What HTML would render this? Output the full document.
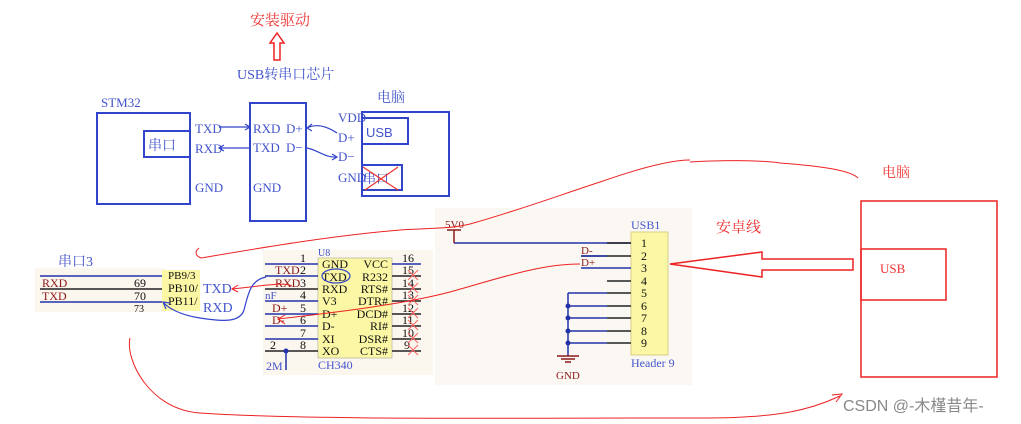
<!DOCTYPE html>
<html><head><meta charset="utf-8"><style>
html,body{margin:0;padding:0;background:#fff;}
svg{display:block;font-family:"Liberation Serif","Noto Serif CJK SC",serif;}
.b{fill:#4455cc;}
.r{fill:#ee3333;}
.dr{fill:#8b1a1a;}
.k{fill:#111;}
</style></head><body>
<svg width="1021" height="424" viewBox="0 0 1021 424" xmlns="http://www.w3.org/2000/svg">
<rect x="35" y="268" width="130" height="44" fill="#fbf6ee"/>
<rect x="263" y="250" width="170" height="125" fill="#fbf6ee"/>
<rect x="435" y="208" width="257" height="177" fill="#fbf8f3"/>

<text x="250" y="25" font-size="15" class="r">安装驱动</text>
<path d="M277,33 L284,43 L280,43 L280,60 L274,60 L274,43 L270,43 Z" fill="none" stroke="#e22" stroke-width="1.5"/>
<text x="237" y="79" font-size="14" class="b">USB转串口芯片</text>

<text x="101" y="107" font-size="13" class="b">STM32</text>
<rect x="97" y="113" width="93" height="91" fill="none" stroke="#3344cc" stroke-width="2"/>
<rect x="144" y="131" width="46" height="26" fill="none" stroke="#3344cc" stroke-width="2"/>
<text x="148" y="150" font-size="14" class="b">串口</text>
<text x="195" y="133" font-size="13" class="b">TXD</text>
<text x="195" y="153" font-size="13" class="b">RXD</text>
<text x="195" y="192" font-size="13" class="b">GND</text>

<rect x="250" y="103" width="56" height="118" fill="none" stroke="#3344cc" stroke-width="2"/>
<text x="253" y="133" font-size="13" class="b">RXD</text>
<text x="253" y="152" font-size="13" class="b">TXD</text>
<text x="253" y="192" font-size="13" class="b">GND</text>
<text x="286" y="133" font-size="13" class="b">D+</text>
<text x="286" y="152" font-size="13" class="b">D−</text>
<g stroke="#3344cc" stroke-width="1.2" fill="none">
<path d="M219,127 L250,127 M245,124 L250,127 L245,130"/>
<path d="M250,148 L219,148 M224,145 L219,148 L224,151"/>
<path d="M337,133 C325,125 315,124 307,128 M312,124 L307,128 L312,131"/>
<path d="M307,148 C318,150 325,158 337,157 M332,154 L337,157 L332,160"/>
</g>

<text x="377" y="102" font-size="14" class="b">电脑</text>
<rect x="362" y="112" width="87" height="84" fill="none" stroke="#3344cc" stroke-width="2"/>
<rect x="362" y="118" width="46" height="26" fill="none" stroke="#3344cc" stroke-width="2"/>
<text x="366" y="137" font-size="13" class="b" font-family="Liberation Sans">USB</text>
<rect x="362" y="165" width="40" height="25" fill="none" stroke="#3344cc" stroke-width="2"/>
<text x="338" y="122" font-size="13" class="b">VDD</text>
<text x="338" y="142" font-size="13" class="b">D+</text>
<text x="338" y="161" font-size="13" class="b">D−</text>
<text x="338" y="182" font-size="13" class="b">GND</text>
<text x="363" y="183" font-size="13" class="b">串口</text>
<path d="M363,167 L398,190 M398,167 L365,190" stroke="#e33" stroke-width="1.2"/>

<text x="58" y="266" font-size="14" class="b">串口3</text>
<line x1="40" y1="276" x2="162" y2="276" stroke="#2233aa" stroke-width="1.5"/>
<text x="42" y="287" font-size="12" class="dr">RXD</text>
<text x="134" y="287" font-size="12" class="k">69</text>
<line x1="40" y1="289" x2="162" y2="289" stroke="#222" stroke-width="1.5"/>
<text x="42" y="300" font-size="12" class="dr">TXD</text>
<text x="134" y="300" font-size="12" class="k">70</text>
<line x1="40" y1="302" x2="162" y2="302" stroke="#2233aa" stroke-width="1.5"/>
<text x="134" y="312" font-size="10" class="k">73</text>
<rect x="162" y="270" width="38" height="41" fill="#fbf7a4"/>
<text x="168" y="279" font-size="11" class="k">PB9/3</text>
<text x="168" y="292" font-size="12" class="k">PB10/</text>
<text x="168" y="305" font-size="12" class="k">PB11/</text>
<text x="203" y="293" font-size="14" class="b">TXD</text>
<text x="203" y="312" font-size="14" class="b">RXD</text>

<text x="318" y="256" font-size="10" class="b">U8</text>
<rect x="318" y="258" width="74" height="100" fill="#fbf7a4" stroke="#bba" stroke-width="0.8"/>
<g font-size="12" class="k">
<text x="322" y="268">GND</text><text x="322" y="281">TXD</text><text x="322" y="293">RXD</text>
<text x="322" y="305">V3</text><text x="322" y="318">D+</text><text x="322" y="330">D-</text>
<text x="322" y="343">XI</text><text x="322" y="355">XO</text>
<g text-anchor="end">
<text x="388" y="268">VCC</text>
<text x="388" y="281">R232</text><text x="388" y="293">RTS#</text>
<text x="388" y="305">DTR#</text><text x="388" y="318">DCD#</text>
<text x="388" y="330">RI#</text><text x="388" y="343">DSR#</text>
<text x="388" y="355">CTS#</text>
</g>
</g>
<g stroke-width="1.5">
<line x1="265" y1="264" x2="318" y2="264" stroke="#2233aa"/>
<line x1="265" y1="276" x2="318" y2="276" stroke="#2233aa"/>
<line x1="265" y1="289" x2="318" y2="289" stroke="#222"/>
<line x1="265" y1="301" x2="318" y2="301" stroke="#2233aa"/>
<line x1="265" y1="314" x2="318" y2="314" stroke="#2233aa"/>
<line x1="265" y1="326" x2="318" y2="326" stroke="#2233aa"/>
<line x1="265" y1="339" x2="318" y2="339" stroke="#2233aa"/>
<line x1="265" y1="351" x2="318" y2="351" stroke="#222"/>
<line x1="392" y1="264" x2="421" y2="264" stroke="#2233aa"/>
<line x1="392" y1="276" x2="421" y2="276" stroke="#222"/>
<line x1="392" y1="289" x2="421" y2="289" stroke="#222"/>
<line x1="392" y1="301" x2="421" y2="301" stroke="#222"/>
<line x1="392" y1="314" x2="421" y2="314" stroke="#222"/>
<line x1="392" y1="326" x2="421" y2="326" stroke="#222"/>
<line x1="392" y1="339" x2="421" y2="339" stroke="#222"/>
<line x1="392" y1="351" x2="421" y2="351" stroke="#222"/>
<line x1="286" y1="351" x2="286" y2="370" stroke="#2233aa"/>
</g>
<circle cx="286" cy="351" r="2.5" fill="#2233aa"/>
<g font-size="12" class="k">
<text x="300" y="262">1</text><text x="300" y="274">2</text><text x="300" y="287">3</text><text x="300" y="299">4</text>
<text x="300" y="312">5</text><text x="300" y="324">6</text><text x="300" y="337">7</text><text x="300" y="349">8</text>
<text x="402" y="262">16</text><text x="402" y="274">15</text><text x="402" y="287">14</text><text x="402" y="299">13</text>
<text x="402" y="312">12</text><text x="402" y="324">11</text><text x="402" y="337">10</text><text x="404" y="349">9</text>
<text x="270" y="349">2</text>
</g>
<g font-size="12" class="dr"><text x="275" y="274">TXD</text><text x="275" y="287">RXD</text><text x="272" y="312">D+</text><text x="272" y="324">D-</text></g>
<text x="265" y="299" font-size="11" class="b">nF</text>
<text x="266" y="370" font-size="12" class="b">2M</text>
<text x="318" y="369" font-size="12" class="b">CH340</text>
<g stroke="#f66" stroke-width="1">
<path d="M408,270 l10,10 M418,270 l-10,10 M408,283 l10,10 M418,283 l-10,10 M408,295 l10,10 M418,295 l-10,10 M408,308 l10,10 M418,308 l-10,10 M408,320 l10,10 M418,320 l-10,10 M408,333 l10,10 M418,333 l-10,10 M408,345 l10,10 M418,345 l-10,10"/>
</g>
<ellipse cx="336" cy="276" rx="14" ry="7" fill="none" stroke="#3344cc" stroke-width="1.2"/>

<text x="631" y="229" font-size="12" class="b">USB1</text>
<rect x="631" y="232" width="37" height="123" fill="#fbf7a4" stroke="#d8cf88" stroke-width="1"/>
<g font-size="12" class="k">
<text x="641" y="247">1</text><text x="641" y="260">2</text><text x="641" y="272">3</text><text x="641" y="285">4</text><text x="641" y="297">5</text>
<text x="641" y="310">6</text><text x="641" y="322">7</text><text x="641" y="335">8</text><text x="641" y="347">9</text>
</g>
<g stroke-width="1.5">
<path d="M454,243 L631,243" stroke="#2233aa"/>
<path d="M607,243 L631,243 M581,256 L631,256 M607,281 L631,281 M607,293 L631,293 M607,306 L631,306 M607,318 L631,318 M607,331 L631,331 M607,343 L631,343" stroke="#222"/>
<path d="M581,256 L607,256 M581,268 L631,268" stroke="#2233aa"/>
<path d="M568,293 L607,293 M568,306 L607,306 M568,318 L607,318 M568,331 L607,331 M568,343 L607,343 M568,293 L568,355" stroke="#2233aa"/>
<path d="M454,230 L454,243 M447,230 L461,230" stroke="#8b1a1a"/>
<path d="M568,355 L568,356 M557,356 L579,356 M561,359 L575,359 M565,362 L571,362" stroke="#8b1a1a"/>
</g>
<g fill="#2233aa"><circle cx="568" cy="306" r="2.5"/><circle cx="568" cy="318" r="2.5"/><circle cx="568" cy="331" r="2.5"/><circle cx="568" cy="343" r="2.5"/></g>
<text x="445" y="228" font-size="11" class="dr">5V0</text>
<text x="581" y="254" font-size="11" class="dr">D-</text>
<text x="581" y="266" font-size="11" class="dr">D+</text>
<text x="556" y="379" font-size="11" class="dr">GND</text>
<text x="631" y="367" font-size="12" class="b">Header 9</text>

<text x="882" y="177" font-size="14" class="r">电脑</text>
<rect x="861" y="201" width="136" height="176" fill="none" stroke="#ee2222" stroke-width="1.5"/>
<rect x="861" y="249" width="85" height="51" fill="none" stroke="#ee2222" stroke-width="1.5"/>
<text x="880" y="273" font-size="13" class="r">USB</text>
<text x="716" y="232" font-size="15" class="r">安卓线</text>
<path d="M853,259 L762,259 L762,252 L670,264 L762,277 L762,270 L853,270 Z" fill="none" stroke="#ee2222" stroke-width="1.5"/>

<g fill="none" stroke="#ee2222" stroke-width="1">
<path d="M199,248 C194,252 196,256 201,258 C260,248 330,236 400,230 C430,228 450,229 470,224 C520,210 560,195 600,182 C640,168 670,160 690,160"/>
<path d="M690,162 C720,160 760,160 780,163 C820,166 850,170 858,178"/>
<path d="M580,264 C540,264 500,278 450,292 C400,305 330,313 278,319 M285,315 L278,319 L285,324"/>
<path d="M292,286 C285,282 270,285 232,289 M238,285 L232,289 L238,292"/>
<path d="M130,338 C125,360 150,410 200,413 C300,420 500,418 700,418 C780,418 810,410 840,396 M832,395 L842,394 L836,402"/>
</g>
<path d="M266,277 C250,280 248,295 244,310 C240,322 225,322 200,318 C180,315 168,308 163,302 M166,309 L163,302 L170,303" fill="none" stroke="#3344cc" stroke-width="1.2"/>

<text x="843" y="411" font-size="16" fill="#888" font-family="Liberation Sans,'Noto Sans CJK SC',sans-serif">CSDN @-木槿昔年-</text>
</svg>
</body></html>
